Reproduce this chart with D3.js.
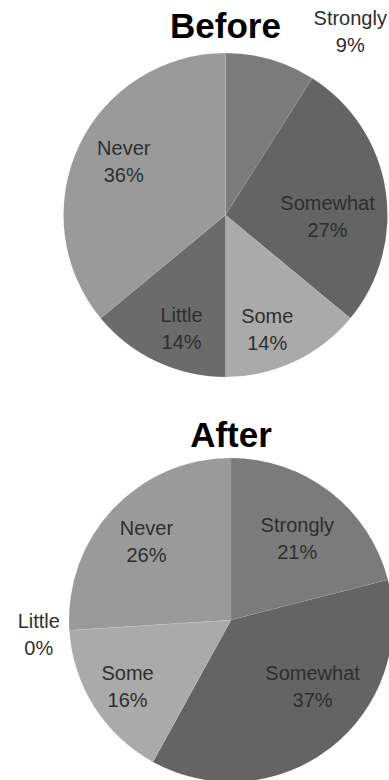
<!DOCTYPE html>
<html>
<head>
<meta charset="utf-8">
<script src="https://cdn.jsdelivr.net/npm/d3@7"></script>
<style>
	body { margin: 0; background: #fff; }
	svg { display: block; }
</style>
</head>
<body>
<div id="chart"></div>
<script>
// data
var categories = ["Strongly", "Somewhat", "Some", "Little", "Never"];
var beforeValues = [9, 27, 14, 14, 36];
var afterValues = [21, 37, 16, 0, 26];
var titles = ["Before", "After"];

var sliceColors = ["#7b7b7b", "#646464", "#aaaaaa", "#6b6b6b", "#9a9a9a"];

var width = 389, height = 780;
var radius = 162;

var svg = d3.select("#chart")
			.append("svg:svg")
			.attr("width", width)
			.attr("height", height);

// where each chart sits, and small label nudges (degrees, fraction of radius)
var charts = [
	{ title: titles[0], values: beforeValues, cx: 225.5, cy: 215, titleY: 38,
	  labelNudge: [[18, 1.37], [9.7, 0.63], [5.1, 0.75], [-4, 0.75], [2.6, 0.71]] },
	{ title: titles[1], values: afterValues, cx: 231, cy: 620, titleY: 447,
	  labelNudge: [[1.2, 0.65], [-13, 0.65], [-0.5, 0.76], [-0.7, 1.19], [-0.5, 0.71]] }
];

var color = d3.scaleOrdinal().domain(categories).range(sliceColors);
var pie = d3.pie().sort(null).value(function(d) { return d.value; });
var arc = d3.arc().innerRadius(0).outerRadius(radius);

charts.forEach(function(c) {
	var rows = categories.map(function(name, i) { return { name: name, value: c.values[i] }; });
	var arcs = pie(rows);

	var g = svg.append("g")
			.attr("transform", "translate(" + c.cx + "," + c.cy + ")");

	//slices
	g.selectAll("path.slice")
		.data(arcs)
		.enter()
		.append("path")
		.attr("class", "slice")
		.attr("d", arc)
		.style("fill", function(d) { return color(d.data.name); })
		.style("stroke", "rgba(255,255,255,0.12)")
		.style("stroke-width", 0.5);

	//labels, two lines each
	var labels = g.selectAll("g.label")
			.data(arcs)
			.enter()
			.append("g")
			.attr("class", "label")
			.attr("transform", function(d, i) {
				var nudge = c.labelNudge[i];
				var a = (d.startAngle + d.endAngle) / 2 + nudge[0] * Math.PI / 180;
				var r = radius * nudge[1];
				return "translate(" + (Math.sin(a) * r) + "," + (-Math.cos(a) * r) + ")";
			});

	labels.append("text")
		.attr("y", -6.5)
		.attr("text-anchor", "middle")
		.style("font-family", "'Liberation Sans', Arial, sans-serif")
		.style("font-size", "20px")
		.style("fill", "#2e2e2e")
		.text(function(d) { return d.data.name; });

	labels.append("text")
		.attr("y", 20.5)
		.attr("text-anchor", "middle")
		.style("font-family", "'Liberation Sans', Arial, sans-serif")
		.style("font-size", "20px")
		.style("fill", "#2e2e2e")
		.text(function(d) { return d.data.value + "%"; });

	//title
	svg.append("text")
		.attr("x", c.cx)
		.attr("y", c.titleY)
		.attr("text-anchor", "middle")
		.style("font-family", "'Liberation Sans', Arial, sans-serif")
		.style("font-weight", "bold")
		.style("font-size", "35px")
		.style("fill", "#000")
		.text(c.title);
});
</script>
</body>
</html>
